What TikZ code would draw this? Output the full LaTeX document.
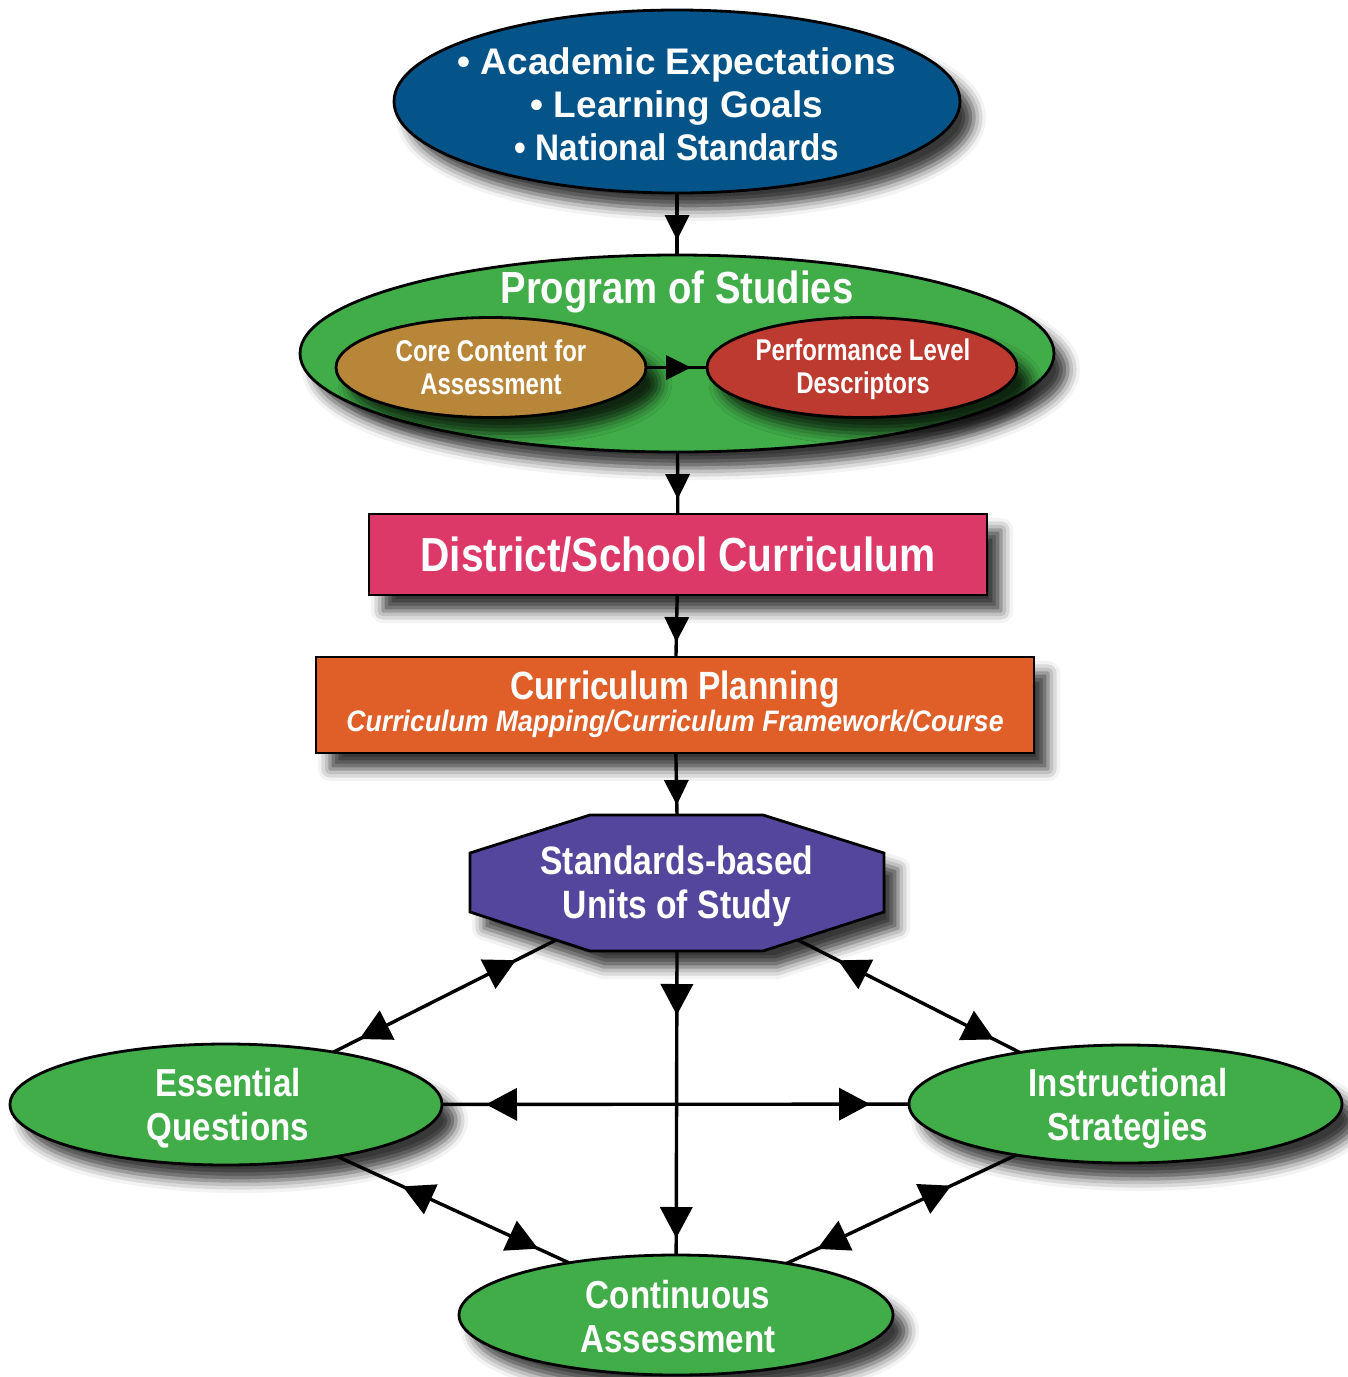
\documentclass[tikz,border=0pt]{standalone}
\usepackage{fontspec}
\setmainfont{Liberation Sans}
\newfontfamily\fA{Liberation Sans}
\newfontfamily\fB{Liberation Sans}[FakeStretch=0.9]
\newfontfamily\fC{Liberation Sans}[FakeStretch=0.85]
\newfontfamily\fD{Liberation Sans}[FakeStretch=0.8]
\usetikzlibrary{arrows.meta,decorations.markings,shapes.geometric,shadows.blur}
\definecolor{cblue}{RGB}{4,84,138}
\definecolor{cgreen}{RGB}{65,173,73}
\definecolor{cochre}{RGB}{184,134,56}
\definecolor{cred}{RGB}{188,58,47}
\definecolor{cpink}{RGB}{221,57,104}
\definecolor{corange}{RGB}{224,94,40}
\definecolor{cpurple}{RGB}{84,70,157}
\begin{document}
\begin{tikzpicture}[x=0.5pt,y=-0.5pt,
  shad/.style={blur shadow={shadow xshift=7pt,shadow yshift=-8pt,shadow blur radius=6pt,shadow opacity=78}},
  ell/.style={ellipse,draw=black,line width=1.4pt,inner sep=0pt,outer sep=0pt,text=white,align=center,shad},
  box/.style={rectangle,draw=black,line width=1.4pt,inner sep=0pt,outer sep=0pt,text=white,align=center,shad},
  txt/.style={text=white,inner sep=0pt,outer sep=0pt},
  conn/.style={line width=1.7pt,draw=black},
  tipA/.tip={Triangle[length=12.5pt,width=12.5pt,fill=black,line width=0pt]},
  tipB/.tip={Triangle[length=15.5pt,width=16.5pt,fill=black,line width=0pt]},
  onemark/.style 2 args={postaction={decorate},decoration={markings,mark=at position #1 with {\arrow{#2}}}},
  twomarks/.style n args={4}{postaction={decorate},decoration={markings,mark=at position #1 with {\arrowreversed{#2}},mark=at position #3 with {\arrow{#4}}}},
  downmarks/.style n args={2}{postaction={decorate},decoration={markings,mark=at position #1 with {\arrow{tipB}},mark=at position #2 with {\arrow{tipB}}}}
]
\useasboundingbox (0,0) rectangle (1348,1377);

% shapes
\node[ell,fill=cblue,minimum width=283pt,minimum height=91.5pt] (top) at (677,101.5) {};
\node[txt,align=center,font={\fontsize{18.5pt}{21.5pt}\selectfont\bfseries}] (topT) at (677,104)
  {{\fA\bfseries • Academic Expectations}\\{\fA\bfseries • Learning Goals}\\{\fB\bfseries • National Standards}};

\node[ell,fill=cgreen,minimum width=377pt,minimum height=98.5pt] (pos) at (677,353.5) {};
\node[txt,anchor=base,font={\fC\bfseries\fontsize{22.5pt}{26pt}\selectfont}] (posT) at (677,303) {Program of Studies};
\node[ell,fill=cochre,minimum width=155pt,minimum height=50pt,font={\fD\bfseries\fontsize{15pt}{16.5pt}\selectfont}]
  (core) at (491,367.5) {Core Content for\\Assessment};
\node[ell,fill=cred,minimum width=155pt,minimum height=50pt] (perf) at (862,367.5) {};
\node[txt,align=center,font={\fD\bfseries\fontsize{15pt}{16.5pt}\selectfont}] (perfT) at (863,369.5) {Performance Level\\Descriptors};

\node[box,fill=cpink,minimum width=309pt,minimum height=40.5pt,font={\fC\bfseries\fontsize{23.9pt}{27pt}\selectfont}]
  (district) at (678,554.5) {District/School Curriculum};

\node[box,fill=corange,minimum width=359pt,minimum height=48pt] (plan) at (675,705) {};
\node[txt,anchor=base,font={\fC\bfseries\fontsize{19.7pt}{23pt}\selectfont}] (planT) at (675,699) {Curriculum Planning};
\node[txt,anchor=base,font={\fB\bfseries\itshape\fontsize{14.8pt}{17pt}\selectfont}] (planS) at (675,731) {Curriculum Mapping/Curriculum Framework/Course};

\filldraw[fill=cpurple,draw=black,line width=1.4pt,line join=miter,shad]
  (590,815) -- (763,815) -- (884,853) -- (884,912) -- (763,951) -- (590,951) -- (470,912) -- (470,853) -- cycle;
\node[txt,rectangle,minimum width=207pt,minimum height=68pt,align=center,font={\fC\bfseries\fontsize{19.8pt}{22pt}\selectfont}]
  (units) at (677,886) {Standards-based\\Units of Study};
\coordinate (oL) at (556,940);
\coordinate (oR) at (798,940);
\coordinate (oS) at (677,951);
\coordinate (oN) at (677,815);

\node[ell,fill=cgreen,minimum width=216pt,minimum height=60.5pt] (eq) at (226,1104.5) {};
\node[txt,align=center,font={\fC\bfseries\fontsize{19.5pt}{22pt}\selectfont}] (eqT) at (228,1108) {Essential\\Questions};
\node[ell,fill=cgreen,minimum width=216.5pt,minimum height=59pt] (is) at (1125.5,1104) {};
\node[txt,align=center,font={\fC\bfseries\fontsize{19.5pt}{22pt}\selectfont}] (isT) at (1128,1108) {Instructional\\Strategies};
\node[ell,fill=cgreen,minimum width=217pt,minimum height=60pt] (ca) at (676,1315) {};
\node[txt,align=center,font={\fC\bfseries\fontsize{19.5pt}{22pt}\selectfont}] (caT) at (678,1317) {Continuous\\Assessment};

% connectors
\draw[conn,onemark={-7.5pt}{tipA}] (top) -- (pos);
\draw[conn,onemark={-8pt}{tipA}] (core) -- (perf);
\draw[conn,onemark={-7.5pt}{tipA}] (pos) -- (district);
\draw[conn,onemark={-7.5pt}{tipA}] (district) -- (plan);
\draw[conn,onemark={-5pt}{tipA}] (plan) -- (oN);
\draw[conn,downmarks={32pt}{-8.5pt}] (oS) -- (ca);
\draw[conn,twomarks={22pt}{tipB}{-19.5pt}{tipB}] (eq) -- (is);
\draw[conn,twomarks={22.5pt}{tipB}{-14.5pt}{tipB}] (oL) -- (eq.26);
\draw[conn,twomarks={22.5pt}{tipB}{-14.5pt}{tipB}] (oR) -- (is.154);
\draw[conn,twomarks={36pt}{tipB}{-17pt}{tipB}] (eq.-25) -- (ca.154.5);
\draw[conn,twomarks={36pt}{tipB}{-17pt}{tipB}] (is.-155) -- (ca.25.5);
\end{tikzpicture}
\end{document}
